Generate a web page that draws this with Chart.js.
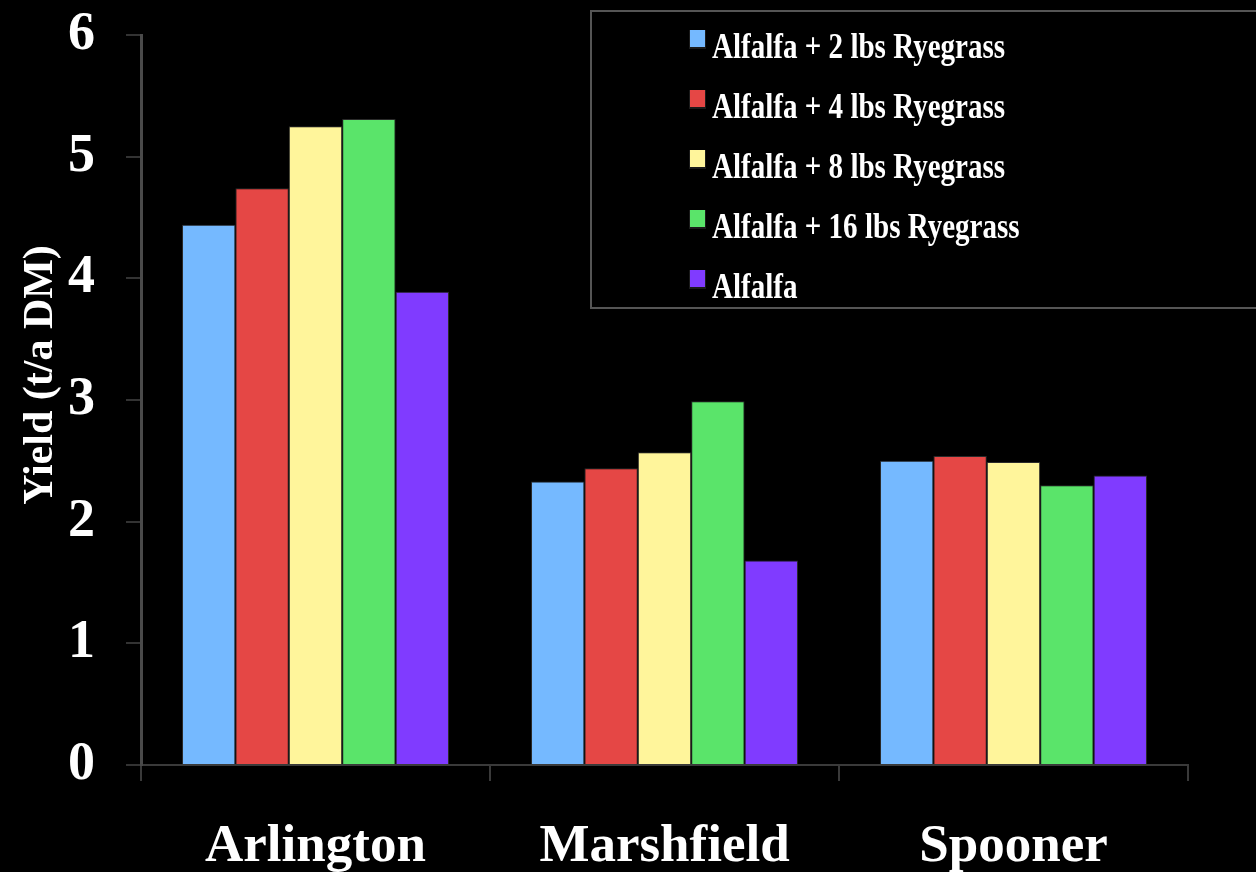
<!DOCTYPE html>
<html>
<head>
<meta charset="utf-8">
<script src="https://cdn.jsdelivr.net/npm/chart.js@4.4.1/dist/chart.umd.min.js"></script>
<style>
  html, body { margin: 0; padding: 0; background: #000; }
  #wrap { width: 1256px; height: 872px; }
</style>
</head>
<body>
<div id="wrap"><canvas id="chart" width="1256" height="872"></canvas></div>
<script>
// Trial sites and forage yield (t/a DM) per seeding treatment
const sites = ['Arlington', 'Marshfield', 'Spooner'];
const treatmentNames = [
  'Alfalfa + 2 lbs Ryegrass',
  'Alfalfa + 4 lbs Ryegrass',
  'Alfalfa + 8 lbs Ryegrass',
  'Alfalfa + 16 lbs Ryegrass',
  'Alfalfa'
];
const rye2 = [4.44, 2.33, 2.50];
const rye4 = [4.74, 2.44, 2.54];
const rye8 = [5.25, 2.57, 2.49];
const rye16 = [5.31, 2.99, 2.30];
const alfalfaOnly = [3.89, 1.68, 2.38];
const yTickValues = [0, 1, 2, 3, 4, 5, 6];
const yTitle = 'Yield (t/a DM)';

const fills = ['#75b9ff', '#e54745', '#fff59b', '#5ae46a', '#803bff'];
const seriesValues = [rye2, rye4, rye8, rye16, alfalfaOnly];

const SERIF = "'Liberation Serif', 'Times New Roman', serif";

const blackBackground = {
  id: 'blackBackground',
  beforeDraw(chart) {
    const { ctx, width, height } = chart;
    ctx.save();
    ctx.fillStyle = '#000';
    ctx.fillRect(0, 0, width, height);
    ctx.restore();
  }
};

// Rotated y-axis title, sitting a little above the axis midpoint
const yAxisTitle = {
  id: 'yAxisTitle',
  afterDraw(chart) {
    const { ctx } = chart;
    ctx.save();
    ctx.translate(41, 375);
    ctx.rotate(-Math.PI / 2);
    ctx.font = 'bold 42px ' + SERIF;
    ctx.fillStyle = '#fff';
    ctx.textAlign = 'center';
    ctx.textBaseline = 'middle';
    ctx.fillText(yTitle, 0, 0);
    ctx.restore();
  }
};

// Boxed legend in the upper right, built from the datasets
const boxedLegend = {
  id: 'boxedLegend',
  afterDraw(chart) {
    const { ctx } = chart;
    ctx.save();
    ctx.strokeStyle = '#555';
    ctx.lineWidth = 2;
    ctx.strokeRect(591, 11, 700, 297);
    ctx.font = 'bold 35px ' + SERIF;
    ctx.textBaseline = 'alphabetic';
    chart.data.datasets.forEach((ds, i) => {
      const top = 30 + i * 60;
      ctx.fillStyle = '#1a1a1a';
      ctx.fillRect(689, top, 17, 19);
      ctx.fillStyle = ds.backgroundColor;
      ctx.fillRect(690, top, 15, 17);
      ctx.save();
      ctx.translate(712, top + 28);
      ctx.scale(0.83, 1);
      ctx.fillStyle = '#fff';
      ctx.fillText(ds.label, 0, 0);
      ctx.restore();
    });
    ctx.restore();
  }
};

new Chart(document.getElementById('chart'), {
  type: 'bar',
  data: {
    labels: sites,
    datasets: treatmentNames.map((name, i) => ({
      label: name,
      data: seriesValues[i],
      backgroundColor: fills[i],
      borderColor: '#2a2a2a',
      borderWidth: 1,
      categoryPercentage: 0.765,
      barPercentage: 1.0
    }))
  },
  options: {
    responsive: false,
    animation: false,
    devicePixelRatio: 1,
    layout: { padding: { top: 35, right: 68, left: 0, bottom: 0 } },
    plugins: {
      legend: { display: false },
      tooltip: { enabled: false }
    },
    scales: {
      x: {
        offset: true,
        afterFit(scale) { scale.height = 107; },
        grid: {
          display: true,
          offset: true,
          drawOnChartArea: false,
          drawTicks: true,
          tickLength: 16,
          color: '#3a3a3a',
          lineWidth: 2
        },
        border: { display: true, color: '#3a3a3a', width: 2 },
        ticks: {
          color: '#fff',
          font: { family: SERIF, size: 53, weight: 'bold' },
          padding: 35,
          maxRotation: 0
        }
      },
      y: {
        min: 0,
        max: 6,
        afterFit(scale) {
          scale.width = 141;
          scale.paddingTop = 0;
          scale.paddingBottom = 0;
        },
        afterBuildTicks(scale) { scale.ticks = yTickValues.map(v => ({ value: v })); },
        grid: {
          display: true,
          drawOnChartArea: false,
          drawTicks: true,
          tickLength: 15,
          color: '#333',
          lineWidth: 2
        },
        border: { display: true, color: '#4a4a4a', width: 3 },
        ticks: {
          color: '#fff',
          font: { family: SERIF, size: 54, weight: 'bold' },
          padding: 31
        }
      }
    }
  },
  plugins: [blackBackground, yAxisTitle, boxedLegend]
});
</script>
</body>
</html>
